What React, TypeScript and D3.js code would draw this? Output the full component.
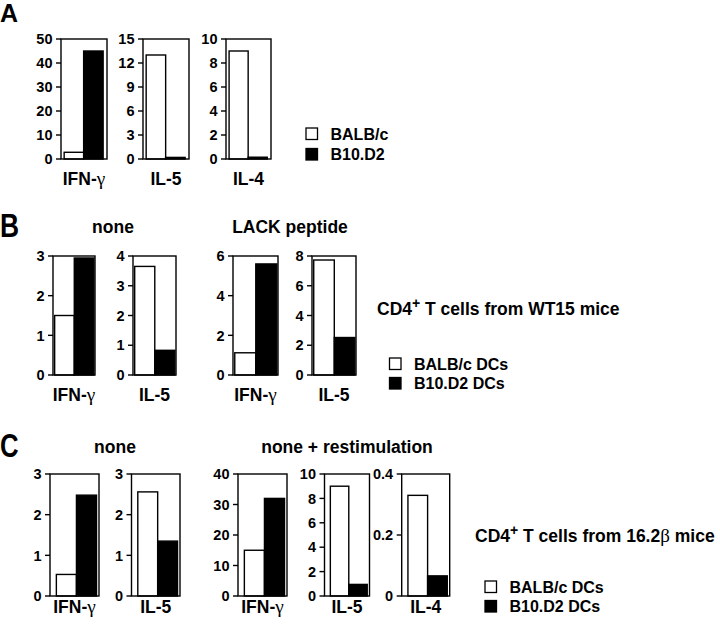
import React from "react";
import * as d3 from "d3";

// ---------- DATA ----------
const groups = ["BALB/c", "B10.D2"];

// Panel A
const aCytokines = ["IFN-γ", "IL-5", "IL-4"];
const aBalb = [2.8, 13, 9];
const aB10 = [45, 0.2, 0.15];
const aMax = [50, 15, 10];
const aTicks = [
  [0, 10, 20, 30, 40, 50],
  [0, 3, 6, 9, 12, 15],
  [0, 2, 4, 6, 8, 10],
];
const aLegend = ["BALB/c", "B10.D2"];

// Panel B
const bTitles = ["none", "LACK peptide"];
const bCytokines = ["IFN-γ", "IL-5", "IFN-γ", "IL-5"];
const bBalb = [1.5, 3.65, 1.12, 7.73];
const bB10 = [2.95, 0.83, 5.6, 2.52];
const bMax = [3, 4, 6, 8];
const bTicks = [
  [0, 1, 2, 3],
  [0, 1, 2, 3, 4],
  [0, 2, 4, 6],
  [0, 2, 4, 6, 8],
];
const bNote = ["CD4", "+", " T cells from WT15 mice"];
const bLegend = ["BALB/c DCs", "B10.D2 DCs"];

// Panel C
const cTitles = ["none", "none + restimulation"];
const cCytokines = ["IFN-γ", "IL-5", "IFN-γ", "IL-5", "IL-4"];
const cBalb = [0.53, 2.56, 15, 9, 0.33];
const cB10 = [2.48, 1.35, 32, 0.95, 0.066];
const cMax = [3, 3, 40, 10, 0.4];
const cTicks = [
  [0, 1, 2, 3],
  [0, 1, 2, 3],
  [0, 10, 20, 30, 40],
  [0, 2, 4, 6, 8, 10],
  [0, 0.2, 0.4],
];
const cNote = ["CD4", "+", " T cells from 16.2", "β", " mice"];
const cLegend = ["BALB/c DCs", "B10.D2 DCs"];

// ---------- LAYOUT ----------
const FONT = "'Liberation Sans', Arial, Helvetica, sans-serif";
const GREEK = "'Liberation Serif', 'DejaVu Serif', serif";
const SW = 1.4;

const aLayout = { xs: [61, 143, 226], ws: [46, 46, 45], top: 39, bottom: 159, labelY: 185, po: 0.18, align: 0.45 };
const bLayout = { xs: [53, 133, 233, 312], ws: [42, 43, 45, 44], top: 256, bottom: 375, labelY: 401, po: 0.07, align: 0.6 };
const cLayout = { xs: [50, 131.5, 238, 324.5, 401.7], ws: [49, 48.5, 49, 45, 48], top: 474, bottom: 596, labelY: 613, po: 0.22, align: 0.72 };

// render a label, drawing Greek letters in a thin serif face (like Symbol)
function withGreek(s: string) {
  const parts = s.split(/([α-ωΑ-Ω])/).filter((p) => p.length > 0);
  return parts.map((p, i) =>
    /[α-ωΑ-Ω]/.test(p) ? (
      <tspan key={i} fontFamily={GREEK} fontWeight="normal" fontSize="1.1em">{p}</tspan>
    ) : (
      <tspan key={i}>{p}</tspan>
    )
  );
}

type BoxProps = {
  x: number; w: number; top: number; bottom: number; max: number;
  ticks: number[]; values: number[]; label: string; labelY: number;
  po: number; align: number;
};

function BarBox({ x, w, top, bottom, max, ticks, values, label, labelY, po, align }: BoxProps) {
  const y = d3.scaleLinear().domain([0, max]).range([bottom, top]);
  const xb = d3.scaleBand<string>().domain(groups).range([x, x + w]).paddingInner(0).paddingOuter(po).align(align);
  return (
    <g>
      {groups.map((g, i) => (
        <rect
          key={g}
          x={xb(g)}
          y={y(values[i])}
          width={xb.bandwidth()}
          height={Math.max(0, bottom - y(values[i]))}
          fill={i === 0 ? "#fff" : "#000"}
          stroke="#000"
          strokeWidth={SW}
        />
      ))}
      <rect x={x} y={top} width={w} height={bottom - top} fill="none" stroke="#000" strokeWidth={SW} />
      {ticks.map((t) => (
        <g key={t}>
          <line x1={x - 5} x2={x} y1={y(t)} y2={y(t)} stroke="#000" strokeWidth={SW} />
          <text x={x - 8.5} y={y(t)} dy="0.36em" textAnchor="end" fontSize={14.5} fontWeight="bold" fontFamily={FONT}>
            {String(t)}
          </text>
        </g>
      ))}
      <text x={x + w / 2} y={labelY} textAnchor="middle" fontSize={17.5} fontWeight="bold" fontFamily={FONT}>
        {withGreek(label)}
      </text>
    </g>
  );
}

function Legend({ x, y0, y1, labels, size, fs }: { x: number; y0: number; y1: number; labels: string[]; size: number; fs: number }) {
  return (
    <g>
      {labels.map((l, i) => {
        const by = i === 0 ? y0 : y1;
        return (
          <g key={l}>
            <rect x={x} y={by - size} width={size} height={size} fill={i === 0 ? "#fff" : "#000"} stroke="#000" strokeWidth={1.3} />
            <text x={x + size + 13} y={by} fontSize={fs} fontWeight="bold" fontFamily={FONT}>
              {l}
            </text>
          </g>
        );
      })}
    </g>
  );
}

function Note({ x, y, parts }: { x: number; y: number; parts: string[] }) {
  return (
    <text x={x} y={y} fontSize={17.5} fontWeight="bold" fontFamily={FONT}>
      <tspan>{parts[0]}</tspan>
      <tspan fontSize={14} dy={-7}>{parts[1]}</tspan>
      <tspan dy={7}>{parts[2]}</tspan>
      {parts.length > 3 && (
        <>
          <tspan fontFamily={GREEK} fontWeight="normal" fontSize={19}>{parts[3]}</tspan>
          <tspan>{parts[4]}</tspan>
        </>
      )}
    </text>
  );
}

export default function App() {
  return (
    <svg width={720} height={627} style={{ position: "absolute", left: 0, top: 0, background: "#fff" }}>
      <rect width={720} height={627} fill="#fff" />
      {/* Panel A */}
      <text x={0} y={22} fontSize={25} fontWeight="bold" fontFamily={FONT}>A</text>
      {aCytokines.map((c, i) => (
        <BarBox key={"a" + i} x={aLayout.xs[i]} w={aLayout.ws[i]} top={aLayout.top} bottom={aLayout.bottom}
          max={aMax[i]} ticks={aTicks[i]} values={[aBalb[i], aB10[i]]} label={c} labelY={aLayout.labelY}
          po={aLayout.po} align={aLayout.align} />
      ))}
      <Legend x={306} y0={139.5} y1={160} labels={aLegend} size={11.5} fs={16} />

      {/* Panel B */}
      <text transform="translate(0,237) scale(0.8,1)" fontSize={33} fontWeight="bold" fontFamily={FONT}>B</text>
      <text x={113} y={233} textAnchor="middle" fontSize={17.5} fontWeight="bold" fontFamily={FONT}>{bTitles[0]}</text>
      <text x={290} y={233} textAnchor="middle" fontSize={17.5} fontWeight="bold" fontFamily={FONT}>{bTitles[1]}</text>
      {bCytokines.map((c, i) => (
        <BarBox key={"b" + i} x={bLayout.xs[i]} w={bLayout.ws[i]} top={bLayout.top} bottom={bLayout.bottom}
          max={bMax[i]} ticks={bTicks[i]} values={[bBalb[i], bB10[i]]} label={c} labelY={bLayout.labelY}
          po={bLayout.po} align={bLayout.align} />
      ))}
      <Note x={377} y={315} parts={bNote} />
      <Legend x={389.5} y0={369.5} y1={389} labels={bLegend} size={11.5} fs={16} />

      {/* Panel C */}
      <text transform="translate(0,457) scale(0.78,1)" fontSize={33} fontWeight="bold" fontFamily={FONT}>C</text>
      <text x={115} y={453} textAnchor="middle" fontSize={17.5} fontWeight="bold" fontFamily={FONT}>{cTitles[0]}</text>
      <text x={347} y={453} textAnchor="middle" fontSize={17.5} fontWeight="bold" fontFamily={FONT}>{cTitles[1]}</text>
      {cCytokines.map((c, i) => (
        <BarBox key={"c" + i} x={cLayout.xs[i]} w={cLayout.ws[i]} top={cLayout.top} bottom={cLayout.bottom}
          max={cMax[i]} ticks={cTicks[i]} values={[cBalb[i], cB10[i]]} label={c} labelY={cLayout.labelY}
          po={cLayout.po} align={cLayout.align} />
      ))}
      <Note x={475} y={542} parts={cNote} />
      <Legend x={485} y0={592.5} y1={612} labels={cLegend} size={11.5} fs={16} />
    </svg>
  );
}
